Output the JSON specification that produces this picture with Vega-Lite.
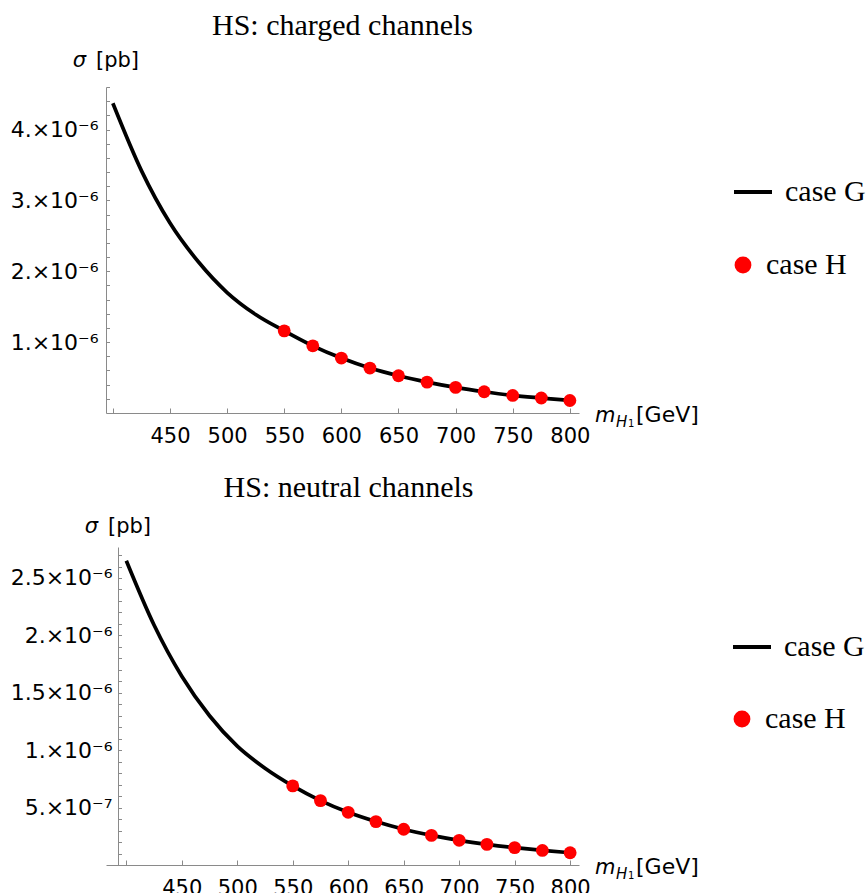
{
  "$schema": "https://vega.github.io/schema/vega-lite/v6.json",
  "background": "white",
  "padding": {"left": 10, "top": 11, "right": 0, "bottom": 0},
  "columns": 1,
  "align": "none",
  "spacing": 27,
  "resolve": {
    "scale": {"stroke": "independent", "fill": "independent"},
    "legend": {"stroke": "independent", "fill": "independent"}
  },
  "config": {
    "view": {"stroke": null},
    "axis": {
      "grid": false,
      "ticks": true,
      "tickCount": 100,
      "domainColor": "#8a8a8a",
      "tickColor": "#8a8a8a",
      "tickWidth": 1,
      "labelColor": "#000000",
      "labelFont": "DejaVu Sans",
      "labelOverlap": false,
      "labelFlush": false,
      "title": null
    },
    "legend": {
      "orient": "none",
      "title": null,
      "padding": 0,
      "labelFont": "Liberation Serif",
      "labelFontSize": 30,
      "labelColor": "#000000",
      "labelLimit": 0
    },
    "title": {
      "font": "Liberation Serif",
      "fontSize": 30,
      "fontWeight": "normal",
      "color": "#000000",
      "anchor": "middle",
      "frame": "group"
    }
  },
  "concat": [
    {
      "title": {"text": "HS: charged channels", "offset": 9},
      "width": 473,
      "height": 326,
      "layer": [
        {
          "data": {"values": [
            {"mH": 400, "sigma": 4.37e-6, "series": "case G"},
            {"mH": 425, "sigma": 3.42e-6, "series": "case G"},
            {"mH": 450, "sigma": 2.68e-6, "series": "case G"},
            {"mH": 475, "sigma": 2.13e-6, "series": "case G"},
            {"mH": 500, "sigma": 1.70e-6, "series": "case G"},
            {"mH": 525, "sigma": 1.39e-6, "series": "case G"},
            {"mH": 550, "sigma": 1.159e-6, "series": "case G"},
            {"mH": 575, "sigma": 0.948e-6, "series": "case G"},
            {"mH": 600, "sigma": 0.775e-6, "series": "case G"},
            {"mH": 625, "sigma": 0.634e-6, "series": "case G"},
            {"mH": 650, "sigma": 0.525e-6, "series": "case G"},
            {"mH": 675, "sigma": 0.436e-6, "series": "case G"},
            {"mH": 700, "sigma": 0.361e-6, "series": "case G"},
            {"mH": 725, "sigma": 0.300e-6, "series": "case G"},
            {"mH": 750, "sigma": 0.248e-6, "series": "case G"},
            {"mH": 775, "sigma": 0.211e-6, "series": "case G"},
            {"mH": 800, "sigma": 0.177e-6, "series": "case G"}
          ]},
          "mark": {"type": "line", "interpolate": "monotone", "strokeWidth": 3.7},
          "encoding": {
            "x": {"field": "mH", "type": "quantitative",
              "scale": {"domain": [394, 808], "nice": false, "zero": false},
              "axis": {"values": [400, 450, 500, 550, 600, 650, 700, 750, 800],
                "labelExpr": "datum.value == 400 ? '' : datum.label",
                "tickCount": 100, "labelOverlap": false, "labelFlush": false, "labelFontSize": 21,
                "tickSize": -5, "labelPadding": 17}},
            "y": {"field": "sigma", "type": "quantitative",
              "scale": {"domain": [0, 4.6e-6], "nice": false, "zero": false},
              "axis": {"values": [2e-7, 4e-7, 6e-7, 8e-7, 1e-6, 1.2e-6, 1.4e-6, 1.6e-6, 1.8e-6, 2e-6, 2.2e-6, 2.4e-6, 2.6e-6, 2.8e-6, 3e-6, 3.2e-6, 3.4e-6, 3.6e-6, 3.8e-6, 4e-6, 4.2e-6, 4.4e-6, 4.6e-6],
                "labelExpr": "abs(datum.value*1e6 - round(datum.value*1e6)) < 0.01 ? round(datum.value*1e6) + '.×10⁻⁶' : ''",
                "tickCount": 100, "labelOverlap": false, "labelFlush": false, "labelFontSize": 22,
                "tickSize": -3.5, "labelPadding": 11.5,
                "encode": {"ticks": {"update": {"x2": {"signal": "abs(datum.value*1e6 - round(datum.value*1e6)) < 0.01 ? 6.5 : 3.5"}}}}}},
            "stroke": {"field": "series", "type": "nominal",
              "scale": {"domain": ["case G"], "range": ["#000000"]},
              "legend": {"legendX": 626, "legendY": 84, "symbolType": "stroke", "symbolSize": 1444, "symbolStrokeWidth": 4, "labelOffset": 11}}
          }
        },
        {
          "data": {"values": [
            {"mH": 550, "sigma": 1.159e-6, "case": "case H"},
            {"mH": 575, "sigma": 0.948e-6, "case": "case H"},
            {"mH": 600, "sigma": 0.775e-6, "case": "case H"},
            {"mH": 625, "sigma": 0.634e-6, "case": "case H"},
            {"mH": 650, "sigma": 0.525e-6, "case": "case H"},
            {"mH": 675, "sigma": 0.436e-6, "case": "case H"},
            {"mH": 700, "sigma": 0.361e-6, "case": "case H"},
            {"mH": 725, "sigma": 0.300e-6, "case": "case H"},
            {"mH": 750, "sigma": 0.248e-6, "case": "case H"},
            {"mH": 775, "sigma": 0.211e-6, "case": "case H"},
            {"mH": 800, "sigma": 0.177e-6, "case": "case H"}
          ]},
          "mark": {"type": "point", "shape": "circle", "filled": true, "size": 165, "opacity": 1},
          "encoding": {
            "x": {"field": "mH", "type": "quantitative"},
            "y": {"field": "sigma", "type": "quantitative"},
            "fill": {"field": "case", "type": "nominal",
              "scale": {"domain": ["case H"], "range": ["#ff0000"]},
              "legend": {"legendX": 622, "legendY": 163, "symbolType": "circle", "symbolSize": 283, "labelOffset": 8}}
          }
        },
        {
          "data": {"values": [{}]},
          "mark": {"type": "text", "text": "σ", "font": "DejaVu Sans", "fontStyle": "italic", "fontSize": 21, "align": "right", "baseline": "alphabetic", "dx": -20, "dy": -20, "color": "#000000"},
          "encoding": {"x": {"datum": 394, "type": "quantitative"}, "y": {"datum": 4.6e-6, "type": "quantitative"}}
        },
        {
          "data": {"values": [{}]},
          "mark": {"type": "text", "text": "[pb]", "font": "DejaVu Sans", "fontSize": 21, "align": "left", "baseline": "alphabetic", "dx": -10, "dy": -20, "color": "#000000"},
          "encoding": {"x": {"datum": 394, "type": "quantitative"}, "y": {"datum": 4.6e-6, "type": "quantitative"}}
        },
        {
          "data": {"values": [{}]},
          "mark": {"type": "text", "text": "m", "font": "DejaVu Sans", "fontStyle": "italic", "fontSize": 21, "align": "left", "baseline": "alphabetic", "dx": 16, "dy": 9, "color": "#000000"},
          "encoding": {"x": {"datum": 808, "type": "quantitative"}, "y": {"datum": 0, "type": "quantitative"}}
        },
        {
          "data": {"values": [{}]},
          "mark": {"type": "text", "text": "H", "font": "DejaVu Sans", "fontStyle": "italic", "fontSize": 15, "align": "left", "baseline": "alphabetic", "dx": 37, "dy": 14, "color": "#000000"},
          "encoding": {"x": {"datum": 808, "type": "quantitative"}, "y": {"datum": 0, "type": "quantitative"}}
        },
        {
          "data": {"values": [{}]},
          "mark": {"type": "text", "text": "1", "font": "DejaVu Sans", "fontSize": 10, "align": "left", "baseline": "alphabetic", "dx": 49, "dy": 14, "color": "#000000"},
          "encoding": {"x": {"datum": 808, "type": "quantitative"}, "y": {"datum": 0, "type": "quantitative"}}
        },
        {
          "data": {"values": [{}]},
          "mark": {"type": "text", "text": "[GeV]", "font": "DejaVu Sans", "fontSize": 22, "align": "left", "baseline": "alphabetic", "dx": 57, "dy": 9, "color": "#000000"},
          "encoding": {"x": {"datum": 808, "type": "quantitative"}, "y": {"datum": 0, "type": "quantitative"}}
        }
      ]
    },
    {
      "title": {"text": "HS: neutral channels", "offset": 13, "dx": 6},
      "width": 473,
      "height": 318,
      "layer": [
        {
          "data": {"values": [
            {"mH": 400, "sigma": 2.65e-6, "series": "case G"},
            {"mH": 425, "sigma": 2.09e-6, "series": "case G"},
            {"mH": 450, "sigma": 1.644e-6, "series": "case G"},
            {"mH": 475, "sigma": 1.30e-6, "series": "case G"},
            {"mH": 500, "sigma": 1.035e-6, "series": "case G"},
            {"mH": 525, "sigma": 0.843e-6, "series": "case G"},
            {"mH": 550, "sigma": 0.689e-6, "series": "case G"},
            {"mH": 575, "sigma": 0.561e-6, "series": "case G"},
            {"mH": 600, "sigma": 0.459e-6, "series": "case G"},
            {"mH": 625, "sigma": 0.378e-6, "series": "case G"},
            {"mH": 650, "sigma": 0.311e-6, "series": "case G"},
            {"mH": 675, "sigma": 0.258e-6, "series": "case G"},
            {"mH": 700, "sigma": 0.215e-6, "series": "case G"},
            {"mH": 725, "sigma": 0.180e-6, "series": "case G"},
            {"mH": 750, "sigma": 0.151e-6, "series": "case G"},
            {"mH": 775, "sigma": 0.127e-6, "series": "case G"},
            {"mH": 800, "sigma": 0.107e-6, "series": "case G"}
          ]},
          "mark": {"type": "line", "interpolate": "monotone", "strokeWidth": 3.7},
          "encoding": {
            "x": {"field": "mH", "type": "quantitative",
              "scale": {"domain": [381.7, 808], "nice": false, "zero": false},
              "axis": {"values": [400, 450, 500, 550, 600, 650, 700, 750, 800],
                "labelExpr": "datum.value == 400 ? '' : datum.label",
                "tickCount": 100, "labelOverlap": false, "labelFlush": false, "labelFontSize": 21,
                "tickSize": -5, "labelPadding": 17,
                "encode": {"domain": {"update": {"x": {"value": 10}}}}}},
            "y": {"field": "sigma", "type": "quantitative",
              "scale": {"domain": [0, 2.77e-6], "nice": false, "zero": false},
              "axis": {"values": [1e-7, 2e-7, 3e-7, 4e-7, 5e-7, 6e-7, 7e-7, 8e-7, 9e-7, 1e-6, 1.1e-6, 1.2e-6, 1.3e-6, 1.4e-6, 1.5e-6, 1.6e-6, 1.7e-6, 1.8e-6, 1.9e-6, 2e-6, 2.1e-6, 2.2e-6, 2.3e-6, 2.4e-6, 2.5e-6, 2.6e-6, 2.7e-6],
                "labelExpr": "round(datum.value*1e7) == 5 ? '5.×10⁻⁷' : (round(datum.value*1e7) % 5 == 0 ? (round(datum.value*1e7) % 10 == 0 ? (round(datum.value*1e7)/10) + '.' : '' + (round(datum.value*1e7)/10)) + '×10⁻⁶' : '')",
                "tickCount": 100, "labelOverlap": false, "labelFlush": false, "labelFontSize": 22,
                "tickSize": -3.5, "labelPadding": 9.5, "offset": -12,
                "encode": {"ticks": {"update": {"x2": {"signal": "round(datum.value*1e7) % 5 == 0 ? 6.5 : 3.5"}}}}}},
            "stroke": {"field": "series", "type": "nominal",
              "scale": {"domain": ["case G"], "range": ["#000000"]},
              "legend": {"legendX": 625, "legendY": 79, "symbolType": "stroke", "symbolSize": 1444, "symbolStrokeWidth": 4, "labelOffset": 11}}
          }
        },
        {
          "data": {"values": [
            {"mH": 550, "sigma": 0.689e-6, "case": "case H"},
            {"mH": 575, "sigma": 0.561e-6, "case": "case H"},
            {"mH": 600, "sigma": 0.459e-6, "case": "case H"},
            {"mH": 625, "sigma": 0.378e-6, "case": "case H"},
            {"mH": 650, "sigma": 0.311e-6, "case": "case H"},
            {"mH": 675, "sigma": 0.258e-6, "case": "case H"},
            {"mH": 700, "sigma": 0.215e-6, "case": "case H"},
            {"mH": 725, "sigma": 0.180e-6, "case": "case H"},
            {"mH": 750, "sigma": 0.151e-6, "case": "case H"},
            {"mH": 775, "sigma": 0.127e-6, "case": "case H"},
            {"mH": 800, "sigma": 0.107e-6, "case": "case H"}
          ]},
          "mark": {"type": "point", "shape": "circle", "filled": true, "size": 165, "opacity": 1},
          "encoding": {
            "x": {"field": "mH", "type": "quantitative"},
            "y": {"field": "sigma", "type": "quantitative"},
            "fill": {"field": "case", "type": "nominal",
              "scale": {"domain": ["case H"], "range": ["#ff0000"]},
              "legend": {"legendX": 621, "legendY": 157, "symbolType": "circle", "symbolSize": 283, "labelOffset": 8}}
          }
        },
        {
          "data": {"values": [{}]},
          "mark": {"type": "text", "text": "σ", "font": "DejaVu Sans", "fontStyle": "italic", "fontSize": 21, "align": "right", "baseline": "alphabetic", "dx": -20, "dy": -14, "color": "#000000"},
          "encoding": {"x": {"datum": 392.5, "type": "quantitative"}, "y": {"datum": 2.77e-6, "type": "quantitative"}}
        },
        {
          "data": {"values": [{}]},
          "mark": {"type": "text", "text": "[pb]", "font": "DejaVu Sans", "fontSize": 21, "align": "left", "baseline": "alphabetic", "dx": -10, "dy": -14, "color": "#000000"},
          "encoding": {"x": {"datum": 392.5, "type": "quantitative"}, "y": {"datum": 2.77e-6, "type": "quantitative"}}
        },
        {
          "data": {"values": [{}]},
          "mark": {"type": "text", "text": "m", "font": "DejaVu Sans", "fontStyle": "italic", "fontSize": 21, "align": "left", "baseline": "alphabetic", "dx": 16, "dy": 9, "color": "#000000"},
          "encoding": {"x": {"datum": 808, "type": "quantitative"}, "y": {"datum": 0, "type": "quantitative"}}
        },
        {
          "data": {"values": [{}]},
          "mark": {"type": "text", "text": "H", "font": "DejaVu Sans", "fontStyle": "italic", "fontSize": 15, "align": "left", "baseline": "alphabetic", "dx": 37, "dy": 14, "color": "#000000"},
          "encoding": {"x": {"datum": 808, "type": "quantitative"}, "y": {"datum": 0, "type": "quantitative"}}
        },
        {
          "data": {"values": [{}]},
          "mark": {"type": "text", "text": "1", "font": "DejaVu Sans", "fontSize": 10, "align": "left", "baseline": "alphabetic", "dx": 49, "dy": 14, "color": "#000000"},
          "encoding": {"x": {"datum": 808, "type": "quantitative"}, "y": {"datum": 0, "type": "quantitative"}}
        },
        {
          "data": {"values": [{}]},
          "mark": {"type": "text", "text": "[GeV]", "font": "DejaVu Sans", "fontSize": 22, "align": "left", "baseline": "alphabetic", "dx": 57, "dy": 9, "color": "#000000"},
          "encoding": {"x": {"datum": 808, "type": "quantitative"}, "y": {"datum": 0, "type": "quantitative"}}
        }
      ]
    }
  ]
}
